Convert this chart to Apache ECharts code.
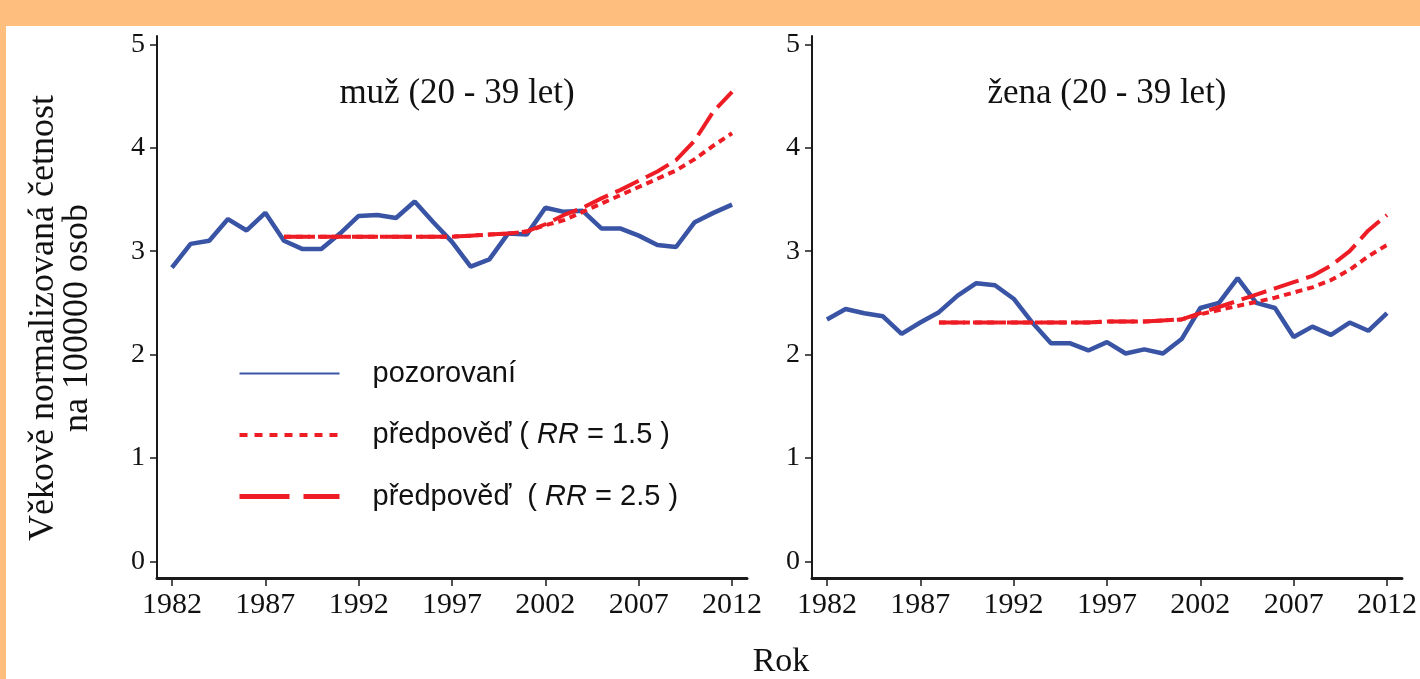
<!DOCTYPE html>
<html>
<head>
<meta charset="utf-8">
<script src="https://cdn.jsdelivr.net/npm/echarts@6/dist/echarts.min.js"></script>
<style>
  html, body { margin: 0; padding: 0; }
  body { width: 1420px; height: 679px; background: #FEBE7E; position: relative; overflow: hidden; }
  #paper { position: absolute; left: 6px; top: 26px; right: 0; bottom: 0; background: #ffffff; }
  #chart { position: absolute; left: 0; top: 0; width: 1420px; height: 679px; }
</style>
</head>
<body>
<div id="paper"></div>
<div id="chart"></div>
<script>
// ---- data ----
const years = [1982,1983,1984,1985,1986,1987,1988,1989,1990,1991,1992,1993,1994,1995,1996,1997,1998,1999,2000,2001,2002,2003,2004,2005,2006,2007,2008,2009,2010,2011,2012];
const forecastYears = [1988,1989,1990,1991,1992,1993,1994,1995,1996,1997,1998,1999,2000,2001,2002,2003,2004,2005,2006,2007,2008,2009,2010,2011,2012];
const xTickYears = [1982,1987,1992,1997,2002,2007,2012];
const yTickValues = [0,1,2,3,4,5];

const maleObserved = [2.84,3.07,3.10,3.31,3.20,3.37,3.10,3.02,3.02,3.17,3.34,3.35,3.32,3.48,3.28,3.09,2.85,2.92,3.17,3.16,3.42,3.38,3.39,3.22,3.22,3.15,3.06,3.04,3.28,3.37,3.45];
const maleRR15 = [3.14,3.14,3.14,3.14,3.14,3.14,3.14,3.14,3.14,3.14,3.15,3.16,3.17,3.19,3.25,3.30,3.38,3.46,3.54,3.62,3.70,3.78,3.89,4.02,4.14];
const maleRR25 = [3.14,3.14,3.14,3.14,3.14,3.14,3.14,3.14,3.14,3.14,3.15,3.16,3.17,3.19,3.26,3.35,3.42,3.51,3.59,3.68,3.77,3.88,4.07,4.35,4.54];

const femaleObserved = [2.34,2.44,2.40,2.37,2.20,2.31,2.41,2.57,2.69,2.67,2.54,2.31,2.11,2.11,2.04,2.12,2.01,2.05,2.01,2.15,2.45,2.50,2.74,2.50,2.45,2.17,2.27,2.19,2.31,2.23,2.40];
const femaleRR15 = [2.31,2.31,2.31,2.31,2.31,2.31,2.31,2.31,2.31,2.32,2.32,2.32,2.33,2.34,2.39,2.43,2.47,2.51,2.55,2.60,2.65,2.72,2.82,2.95,3.06];
const femaleRR25 = [2.31,2.31,2.31,2.31,2.31,2.31,2.31,2.31,2.31,2.32,2.32,2.32,2.33,2.34,2.40,2.46,2.52,2.58,2.64,2.70,2.76,2.86,3.00,3.20,3.35];

const panelTitles = ['muž (20 - 39 let)', 'žena (20 - 39 let)'];
const nameObs = 'pozorovaní';
const nameRR15 = 'předpověď ( RR = 1.5 )';
const nameRR25 = 'předpověď  ( RR = 2.5 )';
const yTitleLines = 'Věkově normalizovaná četnost\nna 100000 osob';
const xTitle = 'Rok';

// ---- styles ----
const BLUE = '#3A54A5';
const RED = '#EE1D25';
const SERIF = '"Liberation Serif", "Times New Roman", serif';
const SANS = '"Liberation Sans", Arial, sans-serif';
const longDash = [26, 8];
const shortDash = [7, 5];

function pairs(xs, ys) { return xs.map((x, i) => [x, ys[i]]); }

const grids = [
  { left: 157, top: 36, width: 590, height: 542 },
  { left: 812, top: 36, width: 590, height: 542 }
];

function xAxis(idx) {
  return {
    type: 'value', gridIndex: idx, min: 1981.2, max: 2012.8,
    axisLine: { show: true, onZero: false, lineStyle: { color: '#1a1a1a', width: 3 } },
    axisTick: { show: true, length: 8, customValues: xTickYears, lineStyle: { color: '#1a1a1a', width: 1.5 } },
    axisLabel: { show: true, customValues: xTickYears, margin: 12, color: '#111', fontFamily: SERIF, fontSize: 30,
                 formatter: function (v) { return String(Math.round(v)); } },
    splitLine: { show: false }
  };
}
function yAxis(idx) {
  return {
    type: 'value', gridIndex: idx, min: -0.16, max: 5.08,
    axisLine: { show: true, onZero: false, lineStyle: { color: '#1a1a1a', width: 2 } },
    axisTick: { show: true, length: 7, customValues: yTickValues, lineStyle: { color: '#1a1a1a', width: 1.5 } },
    axisLabel: { show: true, customValues: yTickValues, margin: 12, color: '#111', fontFamily: SERIF, fontSize: 28 },
    splitLine: { show: false }
  };
}

function lineSeries(name, idx, data, color, width, type, z) {
  return {
    type: 'line', name: name, xAxisIndex: idx, yAxisIndex: idx,
    data: data, symbol: 'none', smooth: false, z: z,
    lineStyle: { color: color, width: width, type: type },
    itemStyle: { color: color },
    emphasis: { disabled: true }, animation: false
  };
}

const series = [
  lineSeries(nameObs, 0, pairs(years, maleObserved), BLUE, 4.5, 'solid', 2),
  lineSeries(nameRR15, 0, pairs(forecastYears, maleRR15), RED, 4, shortDash, 3),
  lineSeries(nameRR25, 0, pairs(forecastYears, maleRR25), RED, 4, longDash, 3),
  lineSeries(nameObs, 1, pairs(years, femaleObserved), BLUE, 4.5, 'solid', 2),
  lineSeries(nameRR15, 1, pairs(forecastYears, femaleRR15), RED, 4, shortDash, 3),
  lineSeries(nameRR25, 1, pairs(forecastYears, femaleRR25), RED, 4, longDash, 3)
];

const chart = echarts.init(document.getElementById('chart'), null, { renderer: 'canvas' });
chart.setOption({
  backgroundColor: 'transparent',
  animation: false,
  grid: grids,
  xAxis: [xAxis(0), xAxis(1)],
  yAxis: [yAxis(0), yAxis(1)],
  title: [
    { text: panelTitles[0], left: 452, top: 71, textAlign: 'center',
      textStyle: { fontFamily: SERIF, fontSize: 35, fontWeight: 'normal', color: '#111' } },
    { text: panelTitles[1], left: 1102, top: 71, textAlign: 'center',
      textStyle: { fontFamily: SERIF, fontSize: 35, fontWeight: 'normal', color: '#111' } },
    { text: xTitle, left: 776, top: 640, textAlign: 'center',
      textStyle: { fontFamily: SERIF, fontSize: 34, fontWeight: 'normal', color: '#111' } }
  ],
  graphic: [
    { type: 'text', x: 61, y: 318, rotation: Math.PI / 2,
      style: { text: yTitleLines, fontFamily: SERIF, fontSize: 36, lineHeight: 34,
               fill: '#111', align: 'center', verticalAlign: 'middle' } }
  ],
  legend: {
    orient: 'vertical', left: 232, top: 354,
    itemWidth: 100, itemHeight: 24, itemGap: 32.5,
    selectedMode: false,
    itemStyle: { opacity: 0 },
    textStyle: { fontFamily: SANS, fontSize: 29, color: '#111', padding: [0, 0, 0, 28],
      rich: { i: { fontFamily: SANS, fontSize: 29, fontStyle: 'italic', color: '#111' } } },
    formatter: function (name) { return name.replace('RR', '{i|RR}'); },
    data: [
      { name: nameObs, lineStyle: { color: BLUE, width: 2, type: 'solid' }, itemStyle: { opacity: 0 } },
      { name: nameRR15, lineStyle: { color: RED, width: 4, type: [8, 7] }, itemStyle: { opacity: 0 } },
      { name: nameRR25, lineStyle: { color: RED, width: 5, type: [50, 14] }, itemStyle: { opacity: 0 } }
    ]
  },
  series: series
});
</script>
</body>
</html>
